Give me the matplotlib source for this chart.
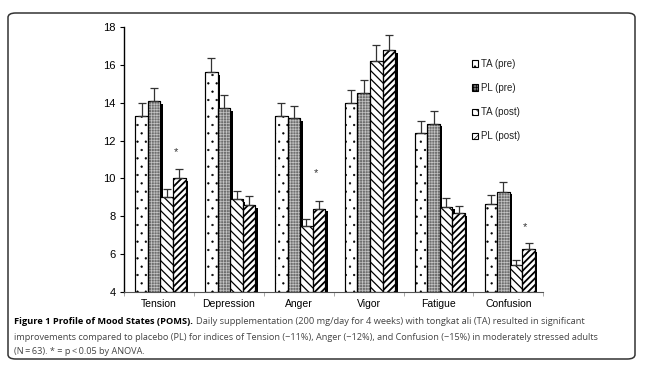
import matplotlib.pyplot as plt
import numpy as np
from matplotlib.patches import FancyBboxPatch, Patch

# POMS scores
categories = ['Tension', 'Depression', 'Anger', 'Vigor', 'Fatigue', 'Confusion']
series = ['TA (pre)', 'PL (pre)', 'TA (post)', 'PL (post)']
ta_pre = [13.3, 15.6, 13.3, 14.0, 12.4, 8.65]
pl_pre = [14.1, 13.7, 13.2, 14.5, 12.9, 9.3]
ta_post = [9.0, 8.9, 7.5, 16.2, 8.5, 5.4]
pl_post = [10.0, 8.6, 8.4, 16.8, 8.15, 6.25]
ta_pre_err = [0.7, 0.75, 0.7, 0.7, 0.65, 0.45]
pl_pre_err = [0.7, 0.7, 0.65, 0.7, 0.65, 0.5]
ta_post_err = [0.45, 0.45, 0.35, 0.85, 0.45, 0.3]
pl_post_err = [0.5, 0.45, 0.4, 0.8, 0.4, 0.33]
star_cats = ['Tension', 'Anger', 'Confusion']
star_y = [11.4, 10.3, 7.4]

plt.rcParams['font.family'] = ['Liberation Sans', 'DejaVu Sans']

fig = plt.figure(figsize=(6.46, 3.72), dpi=100)
ax = fig.add_axes([0.192, 0.216, 0.649, 0.711])

x = np.arange(len(categories))
w = 0.18
offsets = [-1.5 * w, -0.5 * w, 0.5 * w, 1.5 * w]
values = [ta_pre, pl_pre, ta_post, pl_post]
errs = [ta_pre_err, pl_pre_err, ta_post_err, pl_post_err]
faces = ['white', '#6e6e6e', 'white', 'white']
hatches = ['..', '++++++', '\\\\\\\\', '/////']
hatch_colors = ['black', '#c4c4c4', 'black', 'black']
hatch_lw = [0.4, 0.5, 0.9, 1.3]

# drop shadows first
for off, vals in zip(offsets, values):
    ax.bar(x + off + 0.02 + 0.035, np.array(vals) - 4, w, bottom=4 - 0.15,
           color='black', zorder=1)

for i, (off, vals) in enumerate(zip(offsets, values)):
    plt.rcParams['hatch.linewidth'] = hatch_lw[i]
    ax.bar(x + off + 0.02, np.array(vals) - 4, w, bottom=4, color=faces[i],
           edgecolor='black', linewidth=0.8, zorder=2)
    ax.bar(x + off + 0.02, np.array(vals) - 4, w, bottom=4, fill=False,
           hatch=hatches[i], edgecolor=hatch_colors[i], linewidth=0, zorder=3)
    ax.bar(x + off + 0.02, np.array(vals) - 4, w, bottom=4, fill=False,
           edgecolor='black', linewidth=0.8, zorder=4)
    ax.errorbar(x + off + 0.02, vals, yerr=[np.zeros(len(vals)), errs[i]],
                fmt='none', ecolor='#333333', elinewidth=0.9, capsize=3,
                capthick=0.9, zorder=5)

for c, sy in zip(star_cats, star_y):
    ax.text(categories.index(c) + 0.24, sy, '*', ha='center', va='center',
            fontsize=8, color='#333333')

ax.set_xlim(-0.5, 5.5)
ax.set_ylim(4, 18)
ax.set_yticks(range(4, 19, 2))
ax.tick_params(axis='y', labelsize=8, length=3, width=0.8, pad=3)
ax.set_xticks(x)
ax.set_xticklabels(categories, fontsize=7.5)
ax.tick_params(axis='x', length=0, pad=5)
ax.set_xticks(np.arange(-0.5, 6, 1), minor=True)
ax.tick_params(axis='x', which='minor', length=3, width=0.5, color='#888888')
for s in ['top', 'right']:
    ax.spines[s].set_visible(False)
ax.spines['left'].set_linewidth(1.0)
ax.spines['bottom'].set_linewidth(0.8)
ax.spines['bottom'].set_color('#555555')

plt.rcParams['hatch.linewidth'] = 0.5
handles = []
for i in range(4):
    handles.append(Patch(facecolor=faces[i], edgecolor='black', hatch=hatches[i],
                         linewidth=0.8, label=series[i]))
leg = ax.legend(handles=handles, loc='upper left', frameon=False, fontsize=7,
                handlelength=0.65, handleheight=0.65, handletextpad=0.25,
                labelspacing=1.45)
leg.set_bbox_to_anchor((0.717, 0.865), transform=fig.transFigure)
for t in leg.get_texts():
    t.set_color('#222222')

# caption
cap_x = 14 / 646
bold = fig.text(cap_x, 1 - 322 / 372, 'Figure 1 Profile of Mood States (POMS).', fontsize=6.7,
                fontweight='bold', family='Open Sans', va='center', color='black')
fig.text(cap_x, 1 - 337 / 372,
         'improvements compared to placebo (PL) for indices of Tension (\u221211%), Anger (\u221212%), and Confusion (\u221215%) in moderately stressed adults',
         fontsize=6.6, family='Open Sans', va='center', color='#444444')
fig.text(cap_x, 1 - 352 / 372, '(N\u2009=\u200963). * = p\u2009<\u20090.05 by ANOVA.',
         fontsize=6.6, family=['Open Sans', 'DejaVu Sans'], va='center', color='#444444')
fig.canvas.draw()
bb = bold.get_window_extent()
fig.text((bb.x1 + 3) / 646, 1 - 322 / 372,
         'Daily supplementation (200 mg/day for 4 weeks) with tongkat ali (TA) resulted in significant',
         fontsize=6.65, family='Open Sans', va='center', color='#444444')

border = FancyBboxPatch((8 / 646, 1 - 359 / 372), 627 / 646, 346 / 372,
                        boxstyle='round,pad=0,rounding_size=0.012',
                        transform=fig.transFigure, fill=False,
                        edgecolor='#333333', linewidth=1.1)
fig.patches.append(border)

fig.savefig('out.png', dpi=100)
